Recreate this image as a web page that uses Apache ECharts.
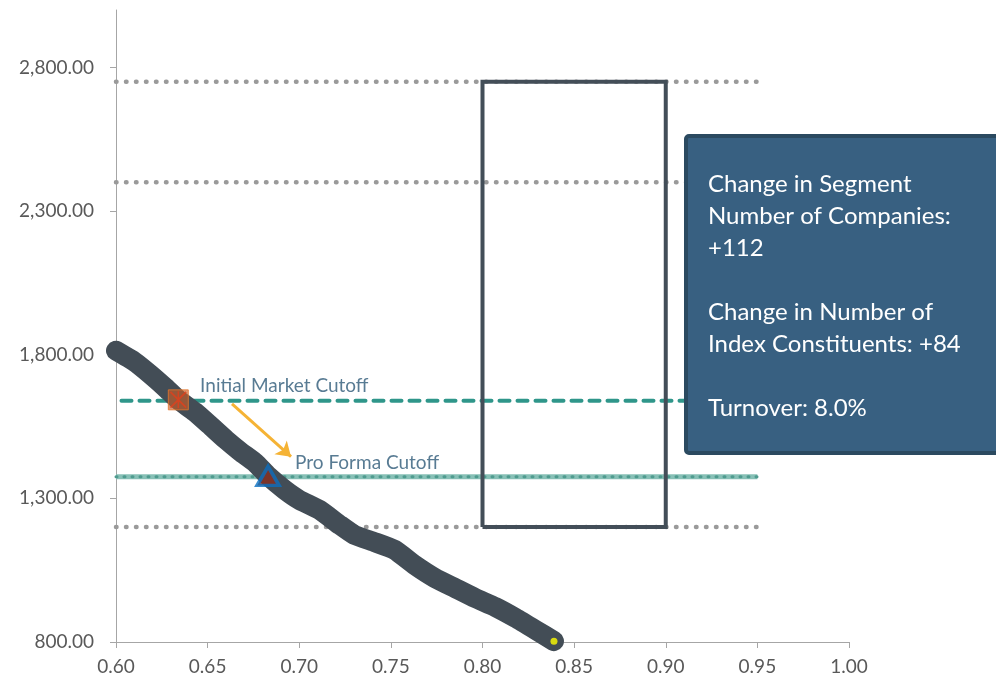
<!DOCTYPE html>
<html>
<head>
<meta charset="utf-8">
<script src="https://cdn.jsdelivr.net/npm/echarts@6/dist/echarts.min.js"></script>
<style>
  html, body { margin: 0; padding: 0; background: #fff; }
  #chart { width: 996px; height: 680px; }
</style>
</head>
<body>
<div id="chart"></div>
<script>
// cutoff curve (float share vs. market cap rank)
const curveX = [0.600, 0.610, 0.619, 0.627, 0.634, 0.643, 0.651, 0.660, 0.668, 0.676, 0.683,
  0.692, 0.700, 0.711, 0.722, 0.730, 0.741, 0.752, 0.763, 0.774, 0.785, 0.796, 0.807, 0.818, 0.829, 0.839];
const curveY = [1814, 1776, 1730, 1685, 1643, 1601, 1556, 1504, 1462, 1424, 1378,
  1330, 1295, 1260, 1208, 1173, 1148, 1121, 1068, 1023, 988, 953, 922, 884, 842, 803];

const xTicks = [0.60, 0.65, 0.70, 0.75, 0.80, 0.85, 0.90, 0.95, 1.00];
const yTicks = [800, 1300, 1800, 2300, 2800];

// grey dotted reference levels
const dottedLevels = [2750, 2400, 1200];
const levelStart = 0.60;
const levelEnd = 0.95;

const initialCutoff = 1640;
const proFormaCutoff = 1375;

// band rectangle
const bandX = [0.80, 0.90];
const bandY = [1200, 2750];

const initialPoint = [0.634, 1643];
const proFormaPoint = [0.683, 1378];
const lastPoint = [0.839, 803];

const arrowFrom = [0.6633, 1629];
const arrowTo = [0.6955, 1445];

const notes = [
  { pos: [0.6459, 1692], text: "Initial Market Cutoff" },
  { pos: [0.6977, 1424], text: "Pro Forma Cutoff" }
];

const boxText = "Change in Segment\nNumber of Companies:\n+112\n\nChange in Number of\nIndex Constituents: +84\n\nTurnover: 8.0%";

const FONT = "Lato";

// filled asterisk (x + vertical bar) for the initial cutoff marker
const STAR_PATH = "path://M0,1.5L1.5,0L20,18.5L18.5,20Z" +
  "M18.5,0L20,1.5L1.5,20L0,18.5Z" +
  "M9.1,0L10.9,0L10.9,20L9.1,20Z";

function fmtThousands(v) {
  return v.toLocaleString("en-US", { minimumFractionDigits: 2, maximumFractionDigits: 2 });
}

const chart = echarts.init(document.getElementById("chart"));

let series = [];

dottedLevels.forEach(function(lv) {
  series.push({
    type: "line",
    data: [[levelStart, lv], [levelEnd, lv]],
    symbol: "none",
    silent: true,
    lineStyle: { color: "#9a9a9a", width: 4.5, type: [0.5, 9.5], cap: "round" },
    z: 1
  });
});

series.push({
  type: "line",
  data: [[levelStart, proFormaCutoff], [levelEnd, proFormaCutoff]],
  symbol: "none",
  silent: true,
  lineStyle: { color: "#87c0b6", width: 5 },
  z: 2
});
series.push({
  type: "line",
  data: [[levelStart, proFormaCutoff], [levelEnd, proFormaCutoff]],
  symbol: "none",
  silent: true,
  lineStyle: { color: "#4f9b8f", width: 3, type: [1, 7], cap: "round" },
  z: 2
});
series.push({
  type: "line",
  data: [[levelStart + 0.003, initialCutoff], [levelEnd, initialCutoff]],
  symbol: "none",
  silent: true,
  lineStyle: { color: "#2f968a", width: 4, type: [10, 8], cap: "round" },
  z: 2
});

series.push({
  type: "line",
  data: [
    [bandX[0], bandY[0]], [bandX[0], bandY[1]], [bandX[1], bandY[1]],
    [bandX[1], bandY[0]], [bandX[0], bandY[0]]
  ],
  symbol: "none",
  silent: true,
  lineStyle: { color: "#434e58", width: 4, join: "miter" },
  z: 3
});

series.push({
  type: "line",
  data: curveX.map(function(x, i) { return [x, curveY[i]]; }),
  symbol: "none",
  smooth: 0.15,
  silent: true,
  lineStyle: { color: "#434d56", width: 20, cap: "round", join: "round" },
  z: 4,
  markLine: {
    silent: true,
    symbol: ["none", "arrow"],
    symbolSize: 14,
    label: { show: false },
    lineStyle: { color: "#f5b335", width: 3, type: "solid" },
    data: [[{ coord: arrowFrom }, { coord: arrowTo }]]
  }
});

series.push({
  type: "scatter",
  data: [initialPoint],
  symbol: "rect",
  symbolSize: 20,
  silent: true,
  itemStyle: { color: "rgba(200,96,40,0.8)", borderColor: "#e6782c", borderWidth: 1 },
  z: 5
});
series.push({
  type: "scatter",
  data: [initialPoint],
  symbol: STAR_PATH,
  symbolSize: 17,
  silent: true,
  itemStyle: { color: "#e2401c" },
  z: 6
});
series.push({
  type: "scatter",
  data: [proFormaPoint],
  symbol: "triangle",
  symbolSize: [22, 19],
  silent: true,
  itemStyle: { color: "#8b2e1e", borderColor: "#0a6fc0", borderWidth: 3.5 },
  z: 6
});
series.push({
  type: "scatter",
  data: [lastPoint],
  symbol: "circle",
  symbolSize: 7,
  silent: true,
  itemStyle: { color: "#ffff00" },
  z: 6
});

series.push({
  type: "scatter",
  data: notes.map(function(n) { return { value: n.pos, name: n.text }; }),
  symbolSize: 0,
  silent: true,
  label: {
    show: true,
    position: "right",
    distance: 0,
    formatter: "{b}",
    color: "#2e5a78",
    fontFamily: FONT,
    fontSize: 19
  },
  z: 7
});

let option = {
  animation: false,
  grid: { left: 116, right: 147, top: 10, bottom: 38 },
  xAxis: {
    type: "value",
    min: 0.6,
    max: 1.0,
    axisLine: { lineStyle: { color: "#a6a6a6", width: 1 } },
    axisTick: { show: true, length: 6, customValues: xTicks, lineStyle: { color: "#a6a6a6" } },
    axisLabel: {
      customValues: xTicks,
      margin: 15,
      color: "#595959",
      fontFamily: FONT,
      fontSize: 19,
      formatter: function(v) { return v.toFixed(2); }
    },
    splitLine: { show: false }
  },
  yAxis: {
    type: "value",
    min: 800,
    max: 3000,
    axisLine: { show: true, lineStyle: { color: "#a6a6a6", width: 1 } },
    axisTick: { show: true, length: 6, customValues: yTicks, lineStyle: { color: "#a6a6a6" } },
    axisLabel: {
      customValues: yTicks,
      margin: 22,
      color: "#595959",
      fontFamily: FONT,
      fontSize: 19,
      formatter: fmtThousands
    },
    splitLine: { show: false }
  },
  graphic: [
    {
      type: "rect",
      z: 100,
      shape: { x: 686, y: 136, width: 330, height: 317, r: 3 },
      style: { fill: "#386081", stroke: "#2b4a60", lineWidth: 4 }
    },
    {
      type: "text",
      z: 101,
      x: 708,
      y: 168,
      style: {
        text: boxText,
        fill: "#ffffff",
        font: "24px " + FONT,
        lineHeight: 32.1,
        verticalAlign: "top"
      }
    }
  ],
  series: series
};

chart.setOption(option, true);
</script>
</body>
</html>
